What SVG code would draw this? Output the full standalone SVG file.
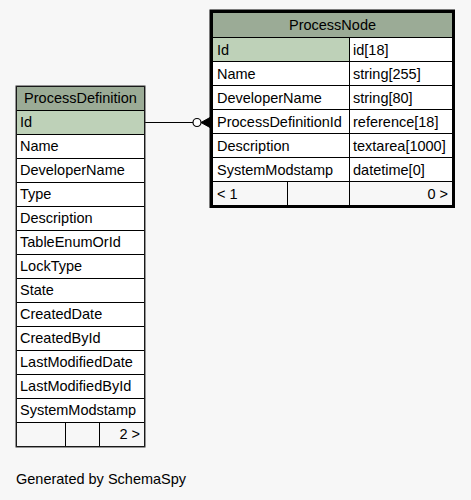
<svg xmlns="http://www.w3.org/2000/svg" width="471" height="500" viewBox="0 0 471 500">
<style>
text{font-family:"Liberation Sans",Arial,sans-serif;font-size:14.5px;fill:#000}
.c{fill:#ffffff;stroke:#000;stroke-width:1}
.h{fill:#9bab96;stroke:#000;stroke-width:1}
.pk{fill:#bed1b8;stroke:#000;stroke-width:1}
.f{fill:#f7f7f7;stroke:#000;stroke-width:1}
.mid{text-anchor:middle}
.end{text-anchor:end}
.conn{fill:none;stroke:#000;stroke-width:1}
</style>
<rect x="0" y="0" width="471" height="500" fill="#f7f7f7"/>
<g id="connectors">
<line class="conn" x1="145" y1="122.5" x2="193" y2="122.5"/>
<circle cx="197" cy="122.5" r="4" fill="#ffffff" stroke="#000" stroke-width="1.2"/>
<polygon points="210,117.5 201,122.5 210,127.5 210,122.5" fill="#000" stroke="#000" stroke-width="1"/>
<line class="conn" x1="201" y1="122.5" x2="210" y2="122.5"/>
</g>
<g id="ProcessNode">
<rect class="h" x="212.5" y="12.5" width="240" height="25"/>
<text class="mid" x="332.5" y="30">ProcessNode</text>
<rect class="pk" x="212.5" y="37.5" width="137" height="24"/>
<rect class="c" x="349.5" y="37.5" width="103" height="24"/>
<text x="217" y="54.5">Id</text><text x="353" y="54.5">id[18]</text>
<rect class="c" x="212.5" y="61.5" width="137" height="24"/>
<rect class="c" x="349.5" y="61.5" width="103" height="24"/>
<text x="217" y="78.5">Name</text><text x="353" y="78.5">string[255]</text>
<rect class="c" x="212.5" y="85.5" width="137" height="24"/>
<rect class="c" x="349.5" y="85.5" width="103" height="24"/>
<text x="217" y="102.5">DeveloperName</text><text x="353" y="102.5">string[80]</text>
<rect class="c" x="212.5" y="109.5" width="137" height="24"/>
<rect class="c" x="349.5" y="109.5" width="103" height="24"/>
<text x="217" y="126.5">ProcessDefinitionId</text><text x="353" y="126.5">reference[18]</text>
<rect class="c" x="212.5" y="133.5" width="137" height="24"/>
<rect class="c" x="349.5" y="133.5" width="103" height="24"/>
<text x="217" y="150.5">Description</text><text x="353" y="150.5">textarea[1000]</text>
<rect class="c" x="212.5" y="157.5" width="137" height="24"/>
<rect class="c" x="349.5" y="157.5" width="103" height="24"/>
<text x="217" y="174.5">SystemModstamp</text><text x="353" y="174.5">datetime[0]</text>
<rect class="f" x="212.5" y="181.5" width="75" height="24"/>
<rect class="f" x="287.5" y="181.5" width="62" height="24"/>
<rect class="f" x="349.5" y="181.5" width="103" height="24"/>
<text x="217" y="198.5">&lt; 1</text><text class="end" x="448" y="198.5">0 &gt;</text>
<rect x="211" y="11" width="242.5" height="195.5" fill="none" stroke="#000" stroke-width="3"/>
</g>
<g id="ProcessDefinition">
<rect class="h" x="16.5" y="86.5" width="128" height="24"/>
<text class="mid" x="80.5" y="103">ProcessDefinition</text>
<rect class="pk" x="16.5" y="110.5" width="128" height="24"/><text x="20" y="127">Id</text>
<rect class="c" x="16.5" y="134.5" width="128" height="24"/><text x="20" y="151">Name</text>
<rect class="c" x="16.5" y="158.5" width="128" height="24"/><text x="20" y="175">DeveloperName</text>
<rect class="c" x="16.5" y="182.5" width="128" height="24"/><text x="20" y="199">Type</text>
<rect class="c" x="16.5" y="206.5" width="128" height="24"/><text x="20" y="223">Description</text>
<rect class="c" x="16.5" y="230.5" width="128" height="24"/><text x="20" y="247">TableEnumOrId</text>
<rect class="c" x="16.5" y="254.5" width="128" height="24"/><text x="20" y="271">LockType</text>
<rect class="c" x="16.5" y="278.5" width="128" height="24"/><text x="20" y="295">State</text>
<rect class="c" x="16.5" y="302.5" width="128" height="24"/><text x="20" y="319">CreatedDate</text>
<rect class="c" x="16.5" y="326.5" width="128" height="24"/><text x="20" y="343">CreatedById</text>
<rect class="c" x="16.5" y="350.5" width="128" height="24"/><text x="20" y="367">LastModifiedDate</text>
<rect class="c" x="16.5" y="374.5" width="128" height="24"/><text x="20" y="391">LastModifiedById</text>
<rect class="c" x="16.5" y="398.5" width="128" height="24"/><text x="20" y="415">SystemModstamp</text>
<rect class="f" x="16.5" y="422.5" width="49" height="24"/>
<rect class="f" x="65.5" y="422.5" width="34" height="24"/>
<rect class="f" x="99.5" y="422.5" width="45" height="24"/>
<text class="end" x="140" y="439">2 &gt;</text>
<rect x="16" y="86" width="129" height="361" fill="none" stroke="#333" stroke-width="1"/>
</g>
<text x="16" y="484">Generated by SchemaSpy</text>
</svg>
